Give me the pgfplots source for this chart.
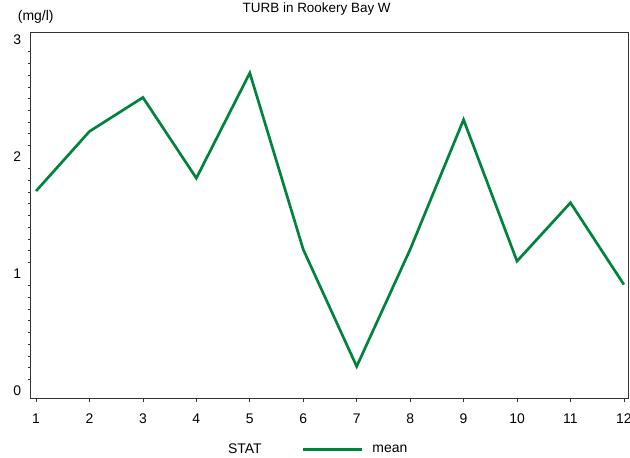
\documentclass[border=0pt]{standalone}
\usepackage{pgfplots}
\pgfplotsset{compat=1.18}
\usepackage{fontspec}
\setmainfont{Liberation Sans}
\definecolor{turbgreen}{RGB}{0,132,61}
\begin{document}
\begin{tikzpicture}
\useasboundingbox (0,0) rectangle (630bp,458bp);
\begin{axis}[
 at={(30.7bp,60bp)}, anchor=south west,
 scale only axis,
 width=598bp, height=366bp,
 xmin=0.9, xmax=12.09,
 ymin=-0.06, ymax=3.07,
 xtick={1,...,12},
 ytick={0,1,2,3},
 minor y tick num=9,
 xtick pos=left, ytick pos=left,
 tick align=outside,
 major tick length=4bp,
 minor tick length=3bp,
 every major y tick/.append style={draw=none},
 axis line style={black!80, line width=0.8pt},
 tick style={black!80, line width=0.8pt},
 every tick label/.append style={font=\fontsize{14}{14}\selectfont},
 /pgf/number format/assume math mode=true,
 xticklabel style={yshift=-8bp},
 yticklabel style={xshift=-2bp},
 title={TURB in Rookery Bay W},
 title style={font=\fontsize{13.5}{13.5}\selectfont, at={(rel axis cs:0.5,1)}, anchor=center, yshift=17bp, xshift=-13bp},
 ylabel={(mg/l)},
 ylabel style={font=\fontsize{14}{14}\selectfont, rotate=-90, at={(rel axis cs:0,1)}, anchor=center, yshift=15bp, xshift=5bp},
 legend style={at={(rel axis cs:0.48,-0.14)}, anchor=center, draw=none, fill=none,
   legend columns=2, font=\fontsize{14}{14}\selectfont,
   /tikz/every even column/.append style={column sep=38bp}},
 legend image code/.code={\draw[#1] (0bp,0bp) -- (59bp,0bp); \path (66bp,0bp);},
]
\addlegendimage{empty legend}
\addlegendentry{STAT}
\addplot[color=turbgreen, line width=2.7pt] coordinates {
 (1,1.71) (2,2.22) (3,2.51) (4,1.82) (5,2.72) (6,1.21)
 (7,0.21) (8,1.21) (9,2.32) (10,1.11) (11,1.61) (12,0.91)
};
\addlegendentry{mean}
\end{axis}
\end{tikzpicture}
\end{document}
